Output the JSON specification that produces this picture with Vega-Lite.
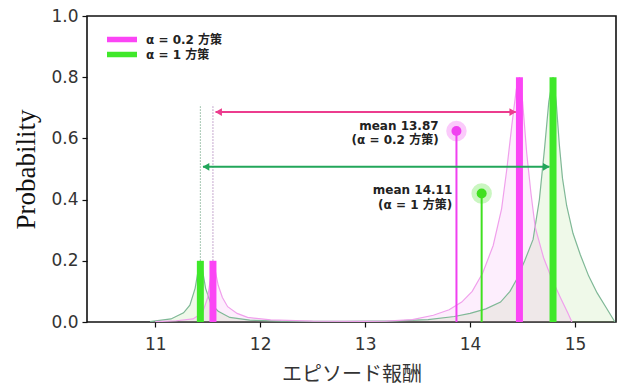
{
  "$schema": "https://vega.github.io/schema/vega-lite/v6.json",
  "width": 529,
  "height": 306,
  "autosize": "none",
  "padding": {"left": 87, "top": 16, "right": 3, "bottom": 67},
  "background": "white",
  "config": {
    "view": {"stroke": "#111", "strokeWidth": 1.6},
    "axis": {
      "domain": false,
      "grid": false,
      "tickColor": "#111",
      "tickSize": 5,
      "tickWidth": 1.2,
      "labelFont": "DejaVu Sans",
      "labelFontSize": 17,
      "labelColor": "#333"
    },
    "legend": {
      "labelFont": "DejaVu Sans, Noto Sans CJK JP",
      "labelFontSize": 12,
      "labelFontWeight": "bold",
      "labelColor": "#222"
    }
  },
  "datasets": {
    "curveM": [
      {"x": 11.0, "y": 0.001}, {"x": 11.2, "y": 0.004}, {"x": 11.36, "y": 0.01}, {"x": 11.45, "y": 0.03},
      {"x": 11.5, "y": 0.08}, {"x": 11.53, "y": 0.15}, {"x": 11.55, "y": 0.2}, {"x": 11.57, "y": 0.17},
      {"x": 11.6, "y": 0.12}, {"x": 11.64, "y": 0.08}, {"x": 11.69, "y": 0.05}, {"x": 11.78, "y": 0.028},
      {"x": 11.88, "y": 0.015}, {"x": 12.1, "y": 0.007}, {"x": 12.5, "y": 0.003}, {"x": 13.0, "y": 0.002},
      {"x": 13.2, "y": 0.003}, {"x": 13.45, "y": 0.008}, {"x": 13.65, "y": 0.022}, {"x": 13.8, "y": 0.04},
      {"x": 13.92, "y": 0.065}, {"x": 14.02, "y": 0.1}, {"x": 14.12, "y": 0.16}, {"x": 14.22, "y": 0.25},
      {"x": 14.3, "y": 0.37}, {"x": 14.35, "y": 0.5}, {"x": 14.4, "y": 0.65}, {"x": 14.44, "y": 0.76},
      {"x": 14.47, "y": 0.8}, {"x": 14.5, "y": 0.72}, {"x": 14.54, "y": 0.55}, {"x": 14.58, "y": 0.42},
      {"x": 14.62, "y": 0.31}, {"x": 14.7, "y": 0.21}, {"x": 14.78, "y": 0.14}, {"x": 14.86, "y": 0.08},
      {"x": 14.93, "y": 0.03}, {"x": 14.97, "y": 0.0}
    ],
    "curveG": [
      {"x": 10.95, "y": 0.001}, {"x": 11.15, "y": 0.01}, {"x": 11.27, "y": 0.03}, {"x": 11.33, "y": 0.055},
      {"x": 11.38, "y": 0.11}, {"x": 11.41, "y": 0.17}, {"x": 11.43, "y": 0.2}, {"x": 11.45, "y": 0.17},
      {"x": 11.48, "y": 0.11}, {"x": 11.53, "y": 0.06}, {"x": 11.6, "y": 0.035}, {"x": 11.71, "y": 0.015},
      {"x": 11.9, "y": 0.006}, {"x": 12.2, "y": 0.003}, {"x": 12.8, "y": 0.002}, {"x": 13.3, "y": 0.004},
      {"x": 13.6, "y": 0.008}, {"x": 13.85, "y": 0.018}, {"x": 14.0, "y": 0.028}, {"x": 14.15, "y": 0.043},
      {"x": 14.29, "y": 0.065}, {"x": 14.38, "y": 0.1}, {"x": 14.44, "y": 0.137}, {"x": 14.52, "y": 0.2},
      {"x": 14.6, "y": 0.27}, {"x": 14.66, "y": 0.4}, {"x": 14.71, "y": 0.57}, {"x": 14.75, "y": 0.72},
      {"x": 14.79, "y": 0.8}, {"x": 14.82, "y": 0.72}, {"x": 14.85, "y": 0.58}, {"x": 14.88, "y": 0.47},
      {"x": 14.92, "y": 0.38}, {"x": 14.98, "y": 0.29}, {"x": 15.05, "y": 0.22}, {"x": 15.13, "y": 0.15},
      {"x": 15.21, "y": 0.095}, {"x": 15.3, "y": 0.045}, {"x": 15.38, "y": 0.0}
    ],
    "bars": [
      {"x": 11.43, "p": 0.2, "policy": "α = 1 方策"},
      {"x": 11.55, "p": 0.2, "policy": "α = 0.2 方策"},
      {"x": 14.47, "p": 0.8, "policy": "α = 0.2 方策"},
      {"x": 14.79, "p": 0.8, "policy": "α = 1 方策"}
    ],
    "dotG": [{"x": 11.43, "y1": 0.2, "y2": 0.71}],
    "dotM": [{"x": 11.55, "y1": 0.2, "y2": 0.71}],
    "meanM": [{"x": 13.87, "y": 0.624}],
    "meanG": [{"x": 14.11, "y": 0.42}],
    "arrowM": [{"x1": 11.575, "x2": 14.435, "y": 0.686}],
    "arrowG": [{"x1": 11.455, "x2": 14.755, "y": 0.507}],
    "labelsM": [{"x": 13.7, "y": 0.64, "t": "mean 13.87"}, {"x": 13.7, "y": 0.595, "t": "(α = 0.2 方策)"}],
    "labelsG": [{"x": 13.83, "y": 0.431, "t": "mean 14.11"}, {"x": 13.83, "y": 0.382, "t": "(α = 1 方策)"}]
  },
  "layer": [
    {
      "data": {"name": "curveG"},
      "mark": {"type": "area", "fill": "#8fd460", "fillOpacity": 0.14, "clip": true},
      "encoding": {
        "x": {"field": "x", "type": "quantitative", "scale": {"domain": [10.35, 15.39], "nice": false, "zero": false},
              "axis": {"values": [11, 12, 13, 14, 15], "format": "d", "title": "エピソード報酬", "titleFont": "Noto Sans CJK JP", "titleFontSize": 20, "titleFontWeight": "normal", "titleColor": "#333", "labelPadding": 9, "titlePadding": 12}},
        "y": {"field": "y", "type": "quantitative", "scale": {"domain": [0, 1], "nice": false},
              "axis": {"values": [0, 0.2, 0.4, 0.6, 0.8, 1.0], "format": ".1f", "title": "Probability", "titleFont": "Liberation Serif", "titleFontSize": 27, "titleFontWeight": "normal", "titleColor": "#111", "labelPadding": 4, "titlePadding": 10}}
      }
    },
    {
      "data": {"name": "curveM"},
      "mark": {"type": "area", "fill": "#f070f0", "fillOpacity": 0.12, "clip": true},
      "encoding": {"x": {"field": "x", "type": "quantitative"}, "y": {"field": "y", "type": "quantitative"}}
    },
    {
      "data": {"name": "curveG"},
      "mark": {"type": "line", "stroke": "#7fb896", "strokeWidth": 1.2, "clip": true},
      "encoding": {"x": {"field": "x", "type": "quantitative"}, "y": {"field": "y", "type": "quantitative"}}
    },
    {
      "data": {"name": "curveM"},
      "mark": {"type": "line", "stroke": "#f0a0ec", "strokeWidth": 1.2, "clip": true},
      "encoding": {"x": {"field": "x", "type": "quantitative"}, "y": {"field": "y", "type": "quantitative"}}
    },
    {
      "data": {"name": "dotG"},
      "mark": {"type": "rule", "stroke": "#88b498", "strokeWidth": 1, "strokeDash": [1.5, 1.5]},
      "encoding": {"x": {"field": "x", "type": "quantitative"}, "y": {"field": "y1", "type": "quantitative"}, "y2": {"field": "y2"}}
    },
    {
      "data": {"name": "dotM"},
      "mark": {"type": "rule", "stroke": "#b48cc0", "strokeWidth": 1, "strokeDash": [1.5, 1.5]},
      "encoding": {"x": {"field": "x", "type": "quantitative"}, "y": {"field": "y1", "type": "quantitative"}, "y2": {"field": "y2"}}
    },
    {
      "data": {"name": "bars"},
      "mark": {"type": "rule", "strokeWidth": 7, "strokeCap": "butt"},
      "encoding": {
        "x": {"field": "x", "type": "quantitative"},
        "y": {"field": "p", "type": "quantitative"},
        "y2": {"datum": 0},
        "color": {
          "field": "policy", "type": "nominal",
          "scale": {"domain": ["α = 0.2 方策", "α = 1 方策"], "range": ["#fb45f5", "#3fe82a"]},
          "legend": {"title": null, "orient": "none", "legendX": 17, "legendY": 16, "symbolType": "M-1,0L6.5,0", "symbolStrokeWidth": 5.5, "symbolSize": 64, "labelOffset": 28, "rowPadding": 0, "padding": 0, "clipHeight": 15}
        }
      }
    },
    {
      "data": {"name": "meanM"},
      "mark": {"type": "rule", "stroke": "#f040f0", "strokeWidth": 2},
      "encoding": {"x": {"field": "x", "type": "quantitative"}, "y": {"field": "y", "type": "quantitative"}, "y2": {"datum": 0}}
    },
    {
      "data": {"name": "meanG"},
      "mark": {"type": "rule", "stroke": "#40e020", "strokeWidth": 2},
      "encoding": {"x": {"field": "x", "type": "quantitative"}, "y": {"field": "y", "type": "quantitative"}, "y2": {"datum": 0}}
    },
    {
      "data": {"name": "meanM"},
      "mark": {"type": "point", "filled": true, "shape": "circle", "size": 420, "color": "#f040f0", "opacity": 0.28},
      "encoding": {"x": {"field": "x", "type": "quantitative"}, "y": {"field": "y", "type": "quantitative"}}
    },
    {
      "data": {"name": "meanM"},
      "mark": {"type": "point", "filled": true, "shape": "circle", "size": 100, "color": "#f040f0", "opacity": 1},
      "encoding": {"x": {"field": "x", "type": "quantitative"}, "y": {"field": "y", "type": "quantitative"}}
    },
    {
      "data": {"name": "meanG"},
      "mark": {"type": "point", "filled": true, "shape": "circle", "size": 420, "color": "#40e020", "opacity": 0.28},
      "encoding": {"x": {"field": "x", "type": "quantitative"}, "y": {"field": "y", "type": "quantitative"}}
    },
    {
      "data": {"name": "meanG"},
      "mark": {"type": "point", "filled": true, "shape": "circle", "size": 100, "color": "#40e020", "opacity": 1},
      "encoding": {"x": {"field": "x", "type": "quantitative"}, "y": {"field": "y", "type": "quantitative"}}
    },
    {
      "data": {"name": "arrowM"},
      "mark": {"type": "rule", "stroke": "#ec3c8e", "strokeWidth": 2},
      "encoding": {"x": {"field": "x1", "type": "quantitative"}, "x2": {"field": "x2"}, "y": {"field": "y", "type": "quantitative"}}
    },
    {
      "data": {"name": "arrowM"},
      "mark": {"type": "point", "filled": true, "shape": "triangle-left", "size": 60, "color": "#ec3c8e", "opacity": 1, "xOffset": 3},
      "encoding": {"x": {"field": "x1", "type": "quantitative"}, "y": {"field": "y", "type": "quantitative"}}
    },
    {
      "data": {"name": "arrowM"},
      "mark": {"type": "point", "filled": true, "shape": "triangle-right", "size": 60, "color": "#ec3c8e", "opacity": 1, "xOffset": -3},
      "encoding": {"x": {"field": "x2", "type": "quantitative"}, "y": {"field": "y", "type": "quantitative"}}
    },
    {
      "data": {"name": "arrowG"},
      "mark": {"type": "rule", "stroke": "#22a65a", "strokeWidth": 2},
      "encoding": {"x": {"field": "x1", "type": "quantitative"}, "x2": {"field": "x2"}, "y": {"field": "y", "type": "quantitative"}}
    },
    {
      "data": {"name": "arrowG"},
      "mark": {"type": "point", "filled": true, "shape": "triangle-left", "size": 60, "color": "#22a65a", "opacity": 1, "xOffset": 3},
      "encoding": {"x": {"field": "x1", "type": "quantitative"}, "y": {"field": "y", "type": "quantitative"}}
    },
    {
      "data": {"name": "arrowG"},
      "mark": {"type": "point", "filled": true, "shape": "triangle-right", "size": 60, "color": "#22a65a", "opacity": 1, "xOffset": -3},
      "encoding": {"x": {"field": "x2", "type": "quantitative"}, "y": {"field": "y", "type": "quantitative"}}
    },
    {
      "data": {"name": "labelsM"},
      "mark": {"type": "text", "align": "right", "baseline": "middle", "font": "DejaVu Sans, Noto Sans CJK JP", "fontSize": 12, "fontWeight": "bold", "color": "#222"},
      "encoding": {"x": {"field": "x", "type": "quantitative"}, "y": {"field": "y", "type": "quantitative"}, "text": {"field": "t"}}
    },
    {
      "data": {"name": "labelsG"},
      "mark": {"type": "text", "align": "right", "baseline": "middle", "font": "DejaVu Sans, Noto Sans CJK JP", "fontSize": 12, "fontWeight": "bold", "color": "#222"},
      "encoding": {"x": {"field": "x", "type": "quantitative"}, "y": {"field": "y", "type": "quantitative"}, "text": {"field": "t"}}
    }
  ]
}
